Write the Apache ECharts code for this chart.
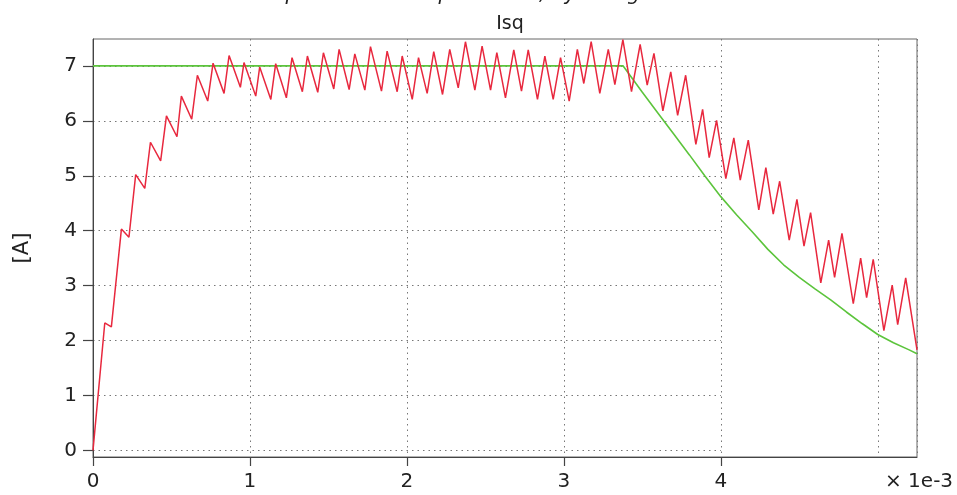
<!DOCTYPE html>
<html>
<head>
<meta charset="utf-8">
<script src="https://cdn.jsdelivr.net/npm/echarts@6/dist/echarts.min.js"></script>
<style>
  html, body { margin: 0; padding: 0; background: #fff; }
  #chart { width: 957px; height: 495px; }
</style>
</head>
<body>
<div id="chart"></div>
<script>
// Time axis in units of 1e-3 s
const xMax = 5.25;
const xTickMax = 4;
const yMin = -0.12;
const yMax = 7.49;
const yTickMax = 7;

// Reference current (setpoint) Isq
const refT = [0, 3.378, 3.5, 3.6, 3.7, 3.8, 3.9, 4.0, 4.1, 4.2, 4.3, 4.4, 4.5, 4.6, 4.7, 4.8, 4.9, 5.0, 5.1, 5.2, 5.25];
const refI = [7, 7, 6.52, 6.14, 5.76, 5.38, 4.99, 4.62, 4.29, 3.98, 3.66, 3.38, 3.15, 2.94, 2.74, 2.52, 2.31, 2.11, 1.96, 1.83, 1.76];

// Measured current Isq (switching ripple)
const measT = [0, 0.075, 0.117, 0.181, 0.229, 0.272, 0.330, 0.366, 0.431, 0.468, 0.535, 0.563, 0.629, 0.665, 0.731, 0.765, 0.835, 0.867, 0.939, 0.962,
  1.037, 1.062, 1.133, 1.164, 1.232, 1.268, 1.334, 1.366, 1.432, 1.468, 1.534, 1.568, 1.632, 1.668, 1.732, 1.768, 1.838, 1.874, 1.938, 1.970,
  2.034, 2.074, 2.129, 2.171, 2.227, 2.273, 2.327, 2.373, 2.433, 2.479, 2.533, 2.573, 2.628, 2.681, 2.730, 2.773, 2.832, 2.879, 2.932, 2.979,
  3.034, 3.086, 3.127, 3.174, 3.229, 3.283, 3.325, 3.376, 3.431, 3.486, 3.531, 3.574, 3.631, 3.681, 3.725, 3.776, 3.841, 3.884, 3.926, 3.973,
  4.032, 4.083, 4.124, 4.175, 4.242, 4.287, 4.334, 4.375, 4.436, 4.485, 4.530, 4.572, 4.637, 4.687, 4.725, 4.772, 4.844, 4.891, 4.929, 4.971,
  5.039, 5.092, 5.127, 5.178, 5.250];
const measI = [0, 2.32, 2.25, 4.03, 3.88, 5.02, 4.77, 5.61, 5.27, 6.09, 5.71, 6.45, 6.03, 6.83, 6.36, 7.05, 6.50, 7.19, 6.61, 7.06,
  6.45, 6.98, 6.39, 7.04, 6.42, 7.15, 6.53, 7.18, 6.52, 7.24, 6.58, 7.30, 6.57, 7.22, 6.56, 7.35, 6.54, 7.27, 6.53, 7.18,
  6.39, 7.15, 6.50, 7.26, 6.48, 7.30, 6.60, 7.44, 6.56, 7.36, 6.56, 7.24, 6.42, 7.29, 6.54, 7.29, 6.39, 7.18, 6.39, 7.15,
  6.36, 7.30, 6.68, 7.44, 6.50, 7.30, 6.66, 7.48, 6.53, 7.39, 6.65, 7.23, 6.18, 6.89, 6.10, 6.83, 5.57, 6.21, 5.33, 6.01,
  4.95, 5.69, 4.92, 5.65, 4.38, 5.15, 4.30, 4.90, 3.83, 4.57, 3.72, 4.33, 3.05, 3.83, 3.15, 3.95, 2.67, 3.50, 2.78, 3.48,
  2.18, 3.01, 2.29, 3.14, 1.83];

const zip = (a, b) => a.map((v, i) => [v, b[i]]);

const FONT = 'DejaVu Sans';
const TEXT = '#222';
const AXIS = '#444';
const DOTTED = { color: '#777', type: [1.5, 4], width: 1 };

// Plot frame geometry
const L = 93, R = 40, T = 39, B = 38, W = 957 - L - R, H = 495 - T - B;
const pxPerX = W / xMax;
const pxPerY = H / (yMax - yMin);
// Tick grid: spans exactly the labelled ranges 0..xTickMax and 0..yTickMax
const tickGrid = {
  left: L,
  width: pxPerX * xTickMax,
  top: T + pxPerY * (yMax - yTickMax),
  height: pxPerY * yTickMax,
  outerBoundsMode: 'none',
  containLabel: false
};

const chart = echarts.init(document.getElementById('chart'), null, { renderer: 'canvas' });

chart.setOption({
  animation: false,
  backgroundColor: '#ffffff',
  title: [
    {
      text: 'Torque current at speed limit, by PI regulation',
      left: 'center',
      top: -20,
      textStyle: { fontFamily: FONT, fontSize: 20, fontStyle: 'italic', fontWeight: 'normal', color: TEXT }
    },
    {
      text: 'Isq',
      left: 505,
      textAlign: 'center',
      top: 10,
      textStyle: { fontFamily: FONT, fontSize: 19, fontWeight: 'normal', color: TEXT }
    }
  ],
  grid: [
    { left: L, right: R, top: T, bottom: B, outerBoundsMode: 'none', containLabel: false,
      show: true, borderColor: '#666', borderWidth: 1, backgroundColor: 'transparent' },
    tickGrid
  ],
  xAxis: [
    {
      gridIndex: 0,
      type: 'value',
      min: 0, max: xMax, interval: 1,
      name: '× 1e-3',
      nameLocation: 'end',
      nameGap: -32,
      nameTextStyle: { fontFamily: FONT, fontSize: 20, color: TEXT, align: 'left', verticalAlign: 'top', padding: [15, 0, 0, 0] },
      axisLine: { show: true, onZero: false, lineStyle: { color: AXIS, width: 1 } },
      axisTick: { show: false },
      axisLabel: { show: false },
      splitLine: { show: true, lineStyle: DOTTED }
    },
    {
      gridIndex: 1,
      type: 'value',
      min: 0, max: xTickMax, interval: 1,
      offset: pxPerY * (0 - yMin),
      axisLine: { show: false, onZero: false },
      axisTick: { show: true, length: 9, lineStyle: { color: AXIS, width: 1.2 } },
      axisLabel: { show: true, fontFamily: FONT, fontSize: 20, color: TEXT, margin: 15 },
      splitLine: { show: false }
    }
  ],
  yAxis: [
    {
      gridIndex: 0,
      type: 'value',
      min: yMin, max: yMax,
      name: '[A]',
      nameLocation: 'middle',
      nameGap: 60,
      nameRotate: 90,
      nameTextStyle: { fontFamily: FONT, fontSize: 21, color: TEXT },
      axisLine: { show: true, onZero: false, lineStyle: { color: AXIS, width: 1 } },
      axisTick: { show: false },
      axisLabel: { show: false },
      splitLine: { show: false }
    },
    {
      gridIndex: 1,
      type: 'value',
      min: 0, max: yTickMax, interval: 1,
      axisLine: { show: false, onZero: false },
      axisTick: { show: true, length: 10, lineStyle: { color: AXIS, width: 1.2 } },
      axisLabel: { show: true, fontFamily: FONT, fontSize: 20, color: TEXT, margin: 16 },
      splitLine: { show: true, lineStyle: DOTTED }
    }
  ],
  series: [
    {
      name: 'Isq ref',
      type: 'line',
      xAxisIndex: 0, yAxisIndex: 0,
      data: zip(refT, refI),
      showSymbol: false,
      lineStyle: { color: '#5cc43c', width: 1.6 },
      z: 2
    },
    {
      name: 'Isq',
      type: 'line',
      xAxisIndex: 0, yAxisIndex: 0,
      data: zip(measT, measI),
      showSymbol: false,
      lineStyle: { color: '#e8283e', width: 1.5 },
      z: 3
    }
  ]
});
</script>
</body>
</html>
